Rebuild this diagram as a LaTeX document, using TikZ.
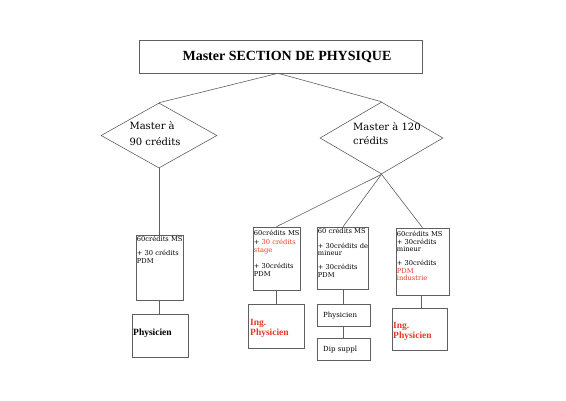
\documentclass[tikz,border=0pt]{standalone}
\usepackage{fontspec}
\setmainfont{DejaVu Serif}
\newfontfamily\tfont{Liberation Serif}
\usetikzlibrary{shapes.geometric}
\definecolor{mred}{RGB}{228,58,36}
\definecolor{lc}{RGB}{95,95,95}
\begin{document}
\begin{tikzpicture}[x=1pt,y=-1pt,
  ln/.style={draw=lc, line width=0.6pt},
  bx/.style={draw=lc, line width=0.6pt, rectangle, inner sep=0pt},
  dm/.style={draw=lc, line width=0.6pt, diamond, inner sep=0pt},
  sm/.style={inner sep=0pt, anchor=north west, align=left, font=\fontsize{6.7}{7.5}\selectfont},
  dtxt/.style={inner sep=0pt, align=left},
  big/.style={inner sep=0pt, anchor=west, align=left, font=\tfont\bfseries\fontsize{9.5}{10}\selectfont}]
\useasboundingbox (0,0) rectangle (566,400);
% title
\node[bx, minimum width=283pt, minimum height=33pt, font=\tfont\bfseries\fontsize{14}{16}\selectfont] (T) at (280.5,56.5) {\hspace*{13pt}Master SECTION DE PHYSIQUE};
% diamonds
\node[dm, minimum width=116pt, minimum height=65pt] (D1) at (159,135.5) {};
\node[dtxt, font=\fontsize{10}{16}\selectfont] (D1t) at (155,133.5) {Master à\\90 crédits};
\node[dm, minimum width=123pt, minimum height=72pt] (D2) at (381.5,138) {};
\node[dtxt, anchor=west, font=\fontsize{10}{13.5}\selectfont] (D2t) at (353,133.5) {Master à 120\\crédits};
% course boxes
\node[bx, minimum width=47pt, minimum height=65pt] (A) at (159.5,267.5) {};
\node[bx, minimum width=47pt, minimum height=63pt] (B) at (276.5,258.5) {};
\node[bx, minimum width=51pt, minimum height=62pt] (C) at (343,258) {};
\node[bx, minimum width=53pt, minimum height=67pt] (D) at (422.5,261.5) {};
\node[sm, xshift=1pt, yshift=-1.5pt] (At) at (A.north west) {60crédits MS\\[6.5pt]+ 30 crédits\\PDM};
\node[sm, xshift=1pt, yshift=-3.5pt] (Bt) at (B.north west) {60crédits MS\\[1.5pt]+ \textcolor{mred}{30 crédits}\\\textcolor{mred}{stage}\\[9pt]+ 30crédits\\PDM};
\node[sm, xshift=0.5pt, yshift=-1.5pt] (Ct) at (C.north west) {60 crédits MS\\[7pt]+ 30crédits de\\mineur\\[6.5pt]+ 30crédits\\PDM};
\node[sm, xshift=1pt, yshift=-3.5pt] (Dt) at (D.north west) {60crédits MS\\+ 30crédits\\mineur\\[6.5pt]+ 30crédits\\\textcolor{mred}{PDM}\\\textcolor{mred}{industrie}};
% outcome boxes
\node[bx, minimum width=56pt, minimum height=43pt] (PA) at (160,335.5) {};
\node[bx, minimum width=56pt, minimum height=44pt] (IB) at (276,326) {};
\node[bx, minimum width=53pt, minimum height=22pt] (PC) at (343.5,315) {};
\node[bx, minimum width=53pt, minimum height=22pt] (DC) at (343.5,349) {};
\node[bx, minimum width=55pt, minimum height=42pt] (ID) at (419.5,329) {};
\node[big] (PAt) at (133,333) {Physicien};
\node[big, text=mred] (IBt) at (250,328) {Ing.\\Physicien};
\node[big, text=mred] (IDt) at (393,331) {Ing.\\Physicien};
\node[inner sep=0pt, anchor=west, font=\fontsize{7}{8}\selectfont] (PCt) at (323,316) {Physicien};
\node[inner sep=0pt, anchor=west, font=\fontsize{7}{8}\selectfont] (DCt) at (323,350) {Dip suppl};
% connectors
\draw[ln] ([xshift=-2.5pt]T.south) -- (D1.north);
\draw[ln] ([xshift=-2.5pt]T.south) -- (D2.north);
\draw[ln] (D1.south) -- (D1.south |- A.north);
\draw[ln] (D2.south) -- (B.north);
\draw[ln] (D2.south) -- (C.north);
\draw[ln] (D2.south) -- (D.north);
\draw[ln] (A.south) -- (A.south |- PA.north);
\draw[ln] (B.south) -- (B.south |- IB.north);
\draw[ln] (C.south) -- (C.south |- PC.north);
\draw[ln] (PC.south) -- (DC.north);
\draw[ln] ([xshift=-1.5pt]D.south) -- ([xshift=-1.5pt]D.south |- ID.north);
\end{tikzpicture}
\end{document}
